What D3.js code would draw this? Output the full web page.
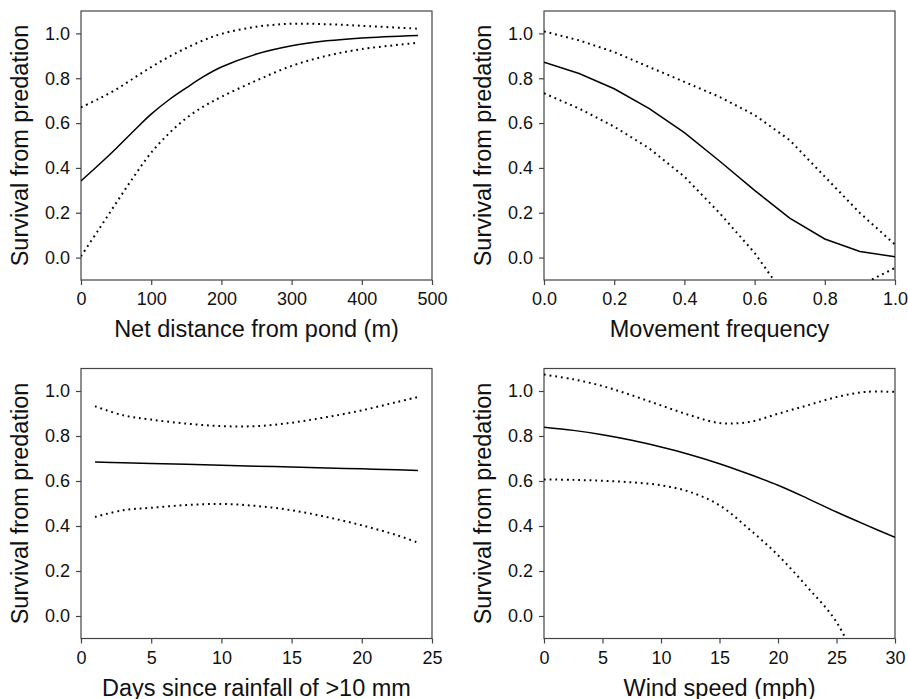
<!DOCTYPE html>
<html>
<head>
<meta charset="utf-8">
<script src="https://cdn.jsdelivr.net/npm/d3@7"></script>
<style>
  body { margin: 0; background: #fff; }
  svg { display: block; font-family: "Liberation Sans", Arial, Helvetica, sans-serif; }
</style>
</head>
<body>
<div id="chart"></div>
<script>
const W = 908, H = 699;

// panel A: net distance from pond
const distX = [0, 25, 50, 75, 100, 125, 150, 175, 200, 250, 300, 350, 400, 480];
const distFit = [0.342, 0.413, 0.487, 0.565, 0.640, 0.703, 0.757, 0.808, 0.850, 0.908, 0.945, 0.967, 0.980, 0.991];
const distUp = [0.670, 0.708, 0.750, 0.800, 0.850, 0.895, 0.935, 0.970, 0.998, 1.030, 1.043, 1.041, 1.034, 1.021];
const distLo = [0.006, 0.124, 0.243, 0.36, 0.468, 0.553, 0.622, 0.675, 0.717, 0.790, 0.855, 0.900, 0.930, 0.958];

// panel B: movement frequency
const moveX = [0, 0.1, 0.2, 0.3, 0.4, 0.5, 0.6, 0.7, 0.8, 0.9, 1.0];
const moveFit = [0.871, 0.821, 0.753, 0.665, 0.557, 0.431, 0.30, 0.176, 0.083, 0.027, 0.004];
const moveUp = [1.009, 0.969, 0.917, 0.85, 0.784, 0.717, 0.636, 0.524, 0.361, 0.199, 0.058];
const moveLo = [0.733, 0.665, 0.584, 0.487, 0.361, 0.199, 0.021, -0.2, -0.24, -0.125, -0.046];

// panel C: days since rainfall
const rainX = [1, 3, 5, 7.5, 10, 12.5, 15, 17.5, 20, 22.5, 24];
const rainFit = [0.684, 0.681, 0.678, 0.674, 0.670, 0.666, 0.662, 0.658, 0.654, 0.650, 0.647];
const rainUp = [0.932, 0.892, 0.873, 0.855, 0.844, 0.844, 0.859, 0.884, 0.914, 0.951, 0.973];
const rainLo = [0.44, 0.47, 0.481, 0.493, 0.498, 0.489, 0.47, 0.44, 0.403, 0.359, 0.326];

// panel D: wind speed
const windX = [0, 2.5, 5, 7.5, 10, 12.5, 15, 17.5, 20, 22.5, 25, 27.5, 30];
const windFit = [0.839, 0.825, 0.806, 0.781, 0.751, 0.717, 0.677, 0.631, 0.581, 0.523, 0.462, 0.405, 0.35];
const windUp = [1.073, 1.052, 1.022, 0.981, 0.936, 0.892, 0.858, 0.862, 0.899, 0.936, 0.973, 0.996, 0.996];
const windLo = [0.607, 0.605, 0.601, 0.594, 0.581, 0.551, 0.492, 0.388, 0.27, 0.129, -0.027, -0.30, -0.60];

const yTicks = [0, 0.2, 0.4, 0.6, 0.8, 1.0];
const yTitle = "Survival from predation";

const panels = [
  { id: "a", x: distX, fit: distFit, up: distUp, lo: distLo, dom: [0, 500], ticks: [0, 100, 200, 300, 400, 500], fmt: d3.format("d"),
    title: "Net distance from pond (m)", box: [81, 11, 432, 280], curve: d3.curveCatmullRom },
  { id: "b", x: moveX, fit: moveFit, up: moveUp, lo: moveLo, dom: [0, 1], ticks: [0, 0.2, 0.4, 0.6, 0.8, 1.0], fmt: d3.format(".1f"),
    title: "Movement frequency", box: [544, 11, 895, 280], curve: d3.curveLinear },
  { id: "c", x: rainX, fit: rainFit, up: rainUp, lo: rainLo, dom: [0, 25], ticks: [0, 5, 10, 15, 20, 25], fmt: d3.format("d"),
    title: "Days since rainfall of >10 mm", box: [81, 368.5, 432, 638.5], curve: d3.curveCatmullRom },
  { id: "d", x: windX, fit: windFit, up: windUp, lo: windLo, dom: [0, 30], ticks: [0, 5, 10, 15, 20, 25, 30], fmt: d3.format("d"),
    title: "Wind speed (mph)", box: [544, 368.5, 895, 638.5], curve: d3.curveCatmullRom }
];

const svg = d3.select("#chart").append("svg").attr("width", W).attr("height", H);

panels.forEach(p => drawPanel(p));

function drawPanel(p) {
  const [x0, y0, x1, y1] = p.box;
  const x = d3.scaleLinear().domain(p.dom).range([x0, x1]);
  const y = d3.scaleLinear().domain([-0.1, 1.1]).range([y1, y0]);
  const g = svg.append("g");

  g.append("clipPath").attr("id", "clip-" + p.id)
    .append("rect").attr("x", x0).attr("y", y0).attr("width", x1 - x0).attr("height", y1 - y0);

  const xAxis = g.append("g").attr("transform", `translate(0,${y1})`)
    .call(d3.axisBottom(x).tickValues(p.ticks).tickFormat(p.fmt).tickSize(5).tickPadding(7.5).tickSizeOuter(0));
  const yAxis = g.append("g").attr("transform", `translate(${x0},0)`)
    .call(d3.axisLeft(y).tickValues(yTicks).tickFormat(d3.format(".1f")).tickSize(5).tickPadding(6).tickSizeOuter(0));
  [xAxis, yAxis].forEach(a => {
    a.attr("font-size", null).attr("font-family", null);
    a.select(".domain").remove();
    a.selectAll("line").attr("stroke", "#444").attr("stroke-width", 1.2);
    a.selectAll("text").style("font-size", "18px").attr("fill", "#111");
  });

  g.append("rect").attr("x", x0).attr("y", y0).attr("width", x1 - x0).attr("height", y1 - y0)
    .attr("fill", "none").attr("stroke", "#444").attr("stroke-width", 1.2);

  const line = d3.line().x(d => x(d[0])).y(d => y(d[1])).curve(p.curve);
  const plot = g.append("g").attr("clip-path", `url(#clip-${p.id})`);
  const series = [
    { v: p.fit, dash: null, w: 1.5 },
    { v: p.up, dash: "1.8,3.9", w: 2 },
    { v: p.lo, dash: "1.8,3.9", w: 2 }
  ];
  series.forEach(s => {
    plot.append("path")
      .datum(p.x.map((v, i) => [v, s.v[i]]))
      .attr("fill", "none")
      .attr("stroke", "#000")
      .attr("stroke-width", s.w)
      .attr("stroke-dasharray", s.dash)
      .attr("d", line);
  });

  g.append("text")
    .attr("x", (x0 + x1) / 2).attr("y", y1 + 57)
    .attr("text-anchor", "middle").style("font-size", "23.5px").attr("fill", "#111")
    .text(p.title);
  g.append("text")
    .attr("transform", `translate(${x0 - 53},${(y0 + y1) / 2}) rotate(-90)`)
    .attr("text-anchor", "middle").style("font-size", "23.5px").attr("fill", "#111")
    .text(yTitle);
}
</script>
</body>
</html>
